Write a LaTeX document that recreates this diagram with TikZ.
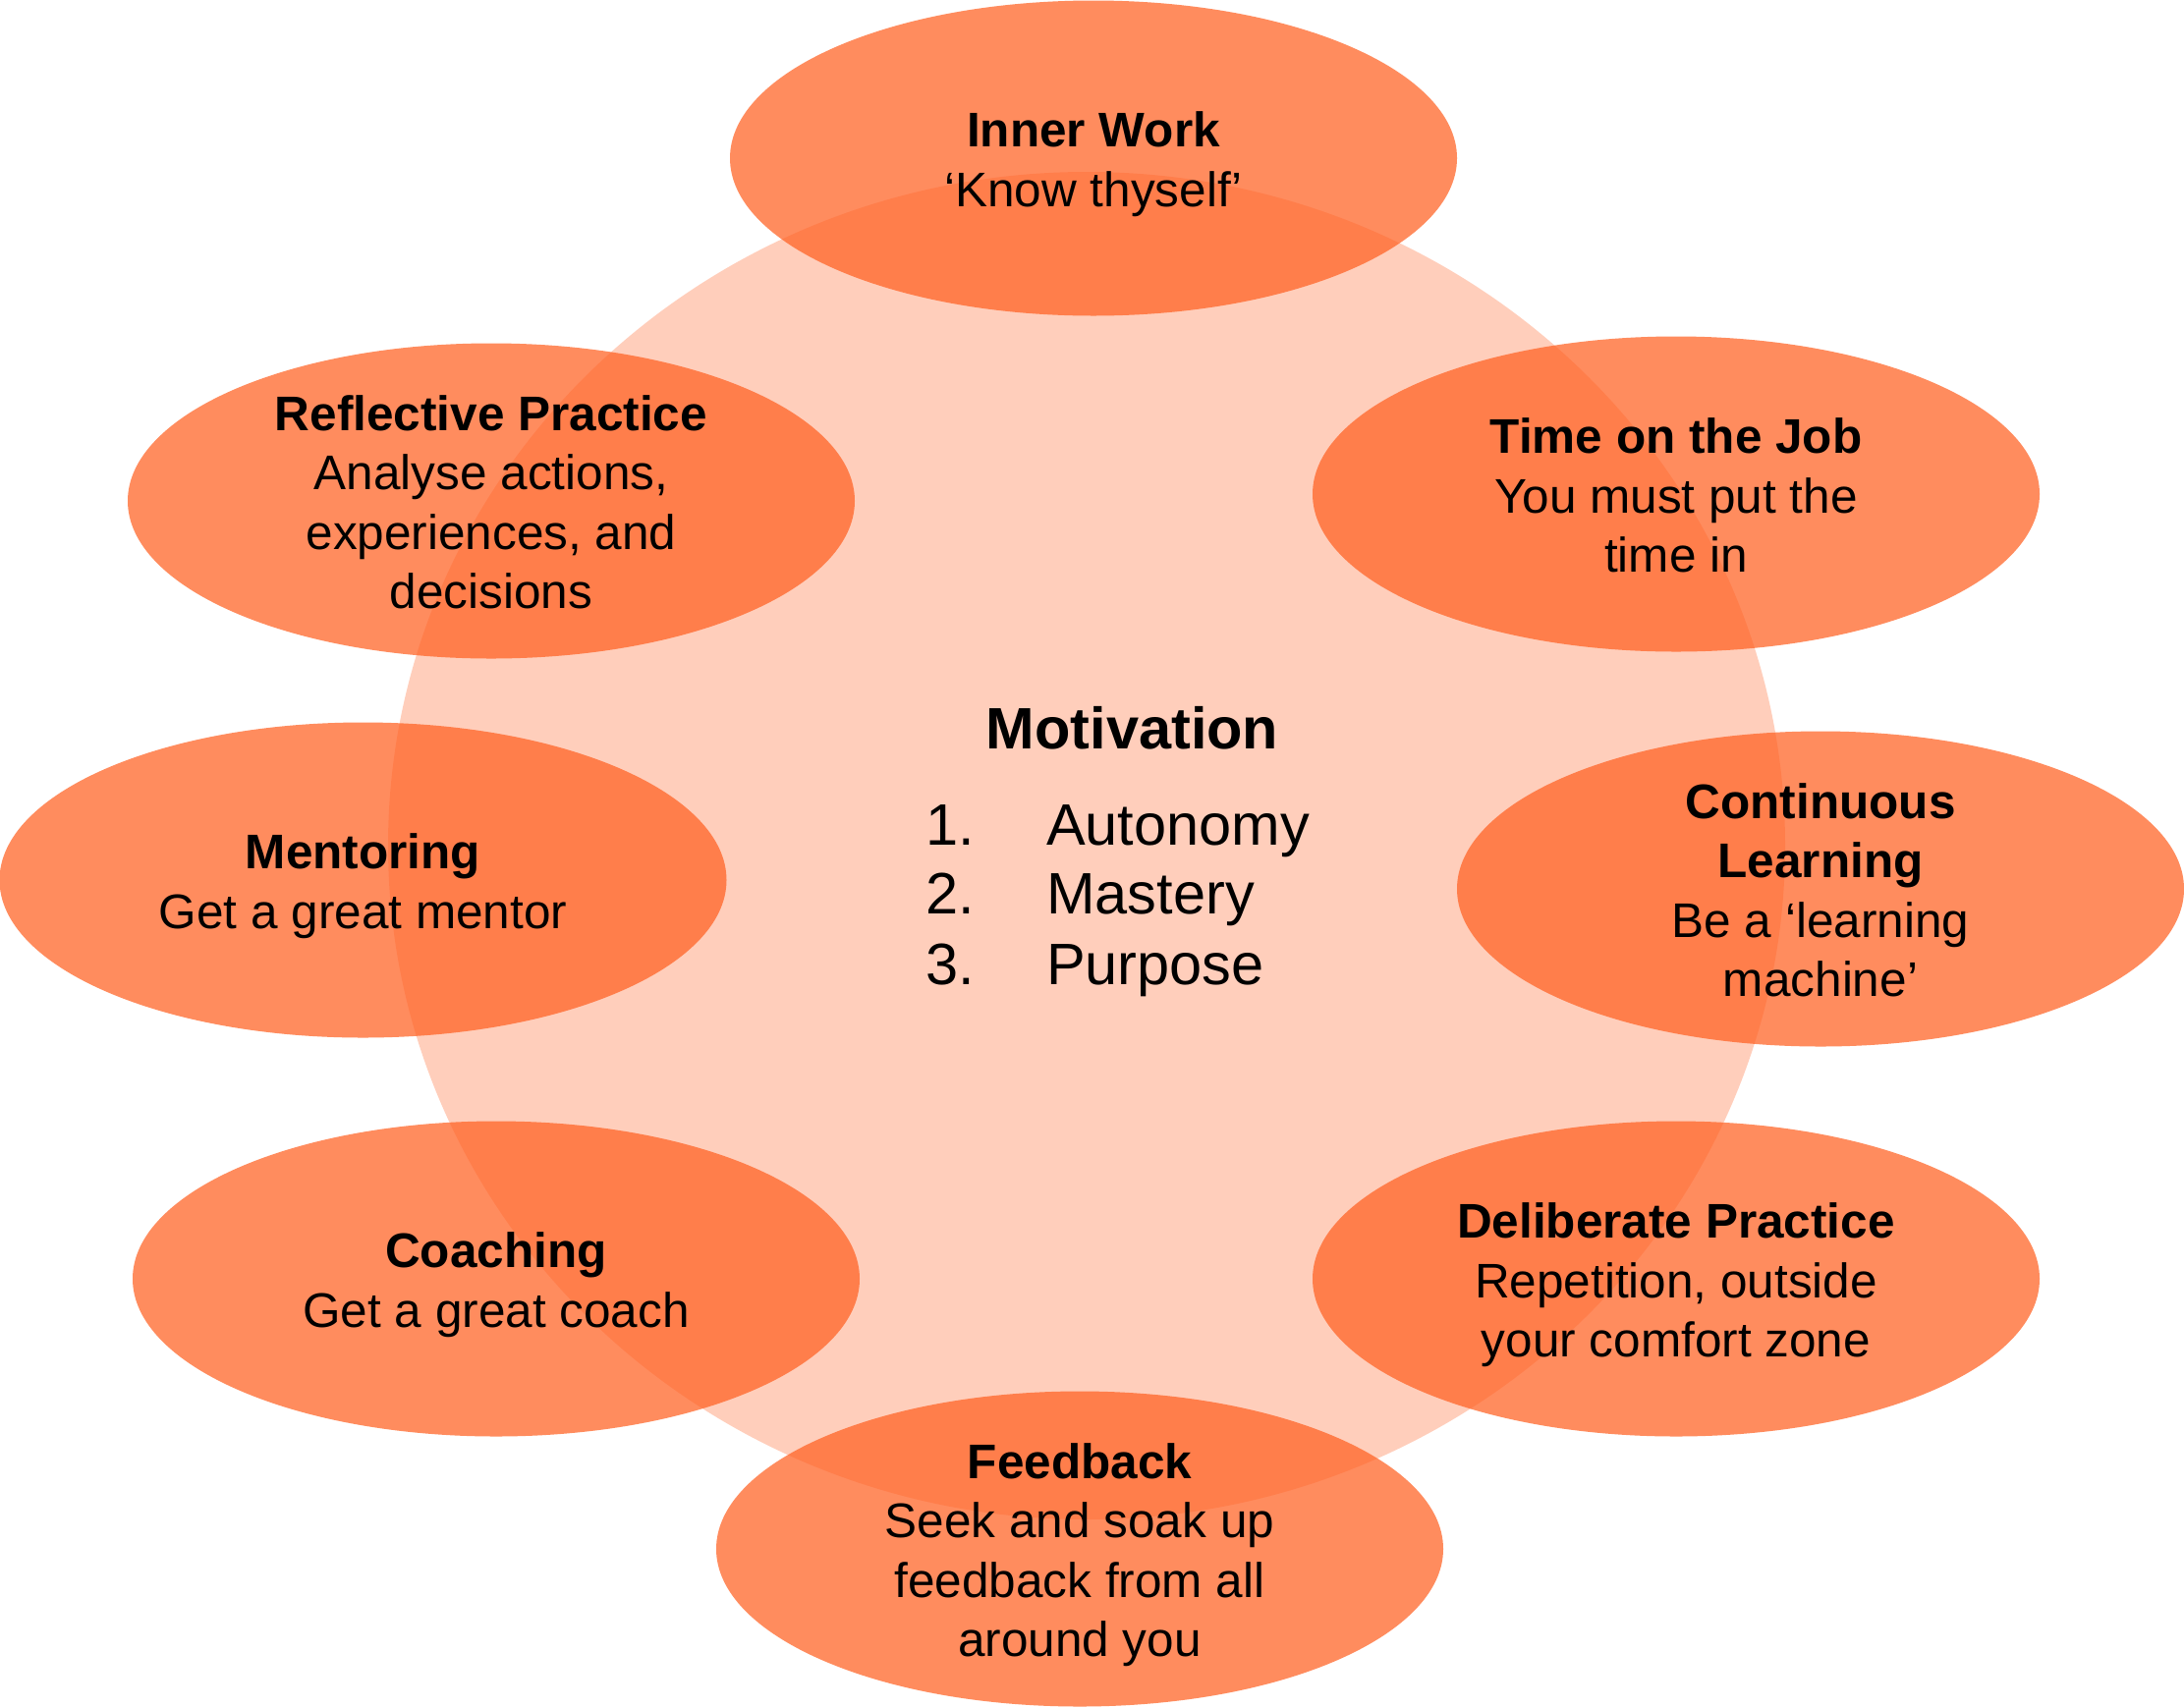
\documentclass[tikz,border=0pt]{standalone}
\usepackage{fontspec}
\setmainfont{Liberation Sans}
\definecolor{orng}{RGB}{255,96,33}
\tikzset{
  blob/.style={fill=orng, fill opacity=0.72},
  core/.style={fill=orng, fill opacity=0.30},
  lbl/.style={align=center, inner sep=0pt, text=black, font=\fontsize{49.5}{60.3}\selectfont},
  mid/.style={inner sep=0pt, anchor=base west, text=black, font=\fontsize{59.5}{71}\selectfont},
}
\newcommand\zs{\rule[-11pt]{0pt}{60pt}}
\begin{document}
\begin{tikzpicture}[x=1pt,y=-1pt]
\useasboundingbox (0,0) rectangle (2223,1738);
\fill[white] (0,0) rectangle (2223,1738);
% central circle
\fill[core] (1106,861) ellipse [x radius=711, y radius=686];
% outer ellipses
\coordinate (cInner) at (1113,161);
\coordinate (cTime) at (1706,503);
\coordinate (cCont) at (1853,905);
\coordinate (cDelib) at (1706,1302);
\coordinate (cFeed) at (1099,1577);
\coordinate (cCoach) at (505,1302);
\coordinate (cMent) at (369.5,896);
\coordinate (cRefl) at (500,510);
\foreach \c in {cInner,cTime,cCont,cDelib,cFeed,cCoach,cMent,cRefl}
  \fill[blob] (\c) ellipse [x radius=370, y radius=160.5];
% labels
\node[lbl] (inner) at (cInner) {\zs\textbf{Inner Work}\\‘Know thyself’\zs};
\node[lbl] (time) at (cTime) {\zs\textbf{Time on the Job}\\You must put the\\time in\zs};
\node[lbl] (cont) at (cCont) {\zs\textbf{Continuous}\\\textbf{Learning}\\Be a ‘learning\\machine’\zs};
\node[lbl] (delib) at (cDelib) {\zs\textbf{Deliberate Practice}\\Repetition, outside\\your comfort zone\zs};
\node[lbl] (feed) at (cFeed) {\zs\textbf{Feedback}\\Seek and soak up\\feedback from all\\around you\zs};
\node[lbl] (coach) at (cCoach) {\zs\textbf{Coaching}\\Get a great coach\zs};
\node[lbl] (ment) at (cMent) {\zs\textbf{Mentoring}\\Get a great mentor\zs};
\node[lbl] (refl) at (cRefl) {\zs\textbf{Reflective Practice}\\Analyse actions,\\experiences, and\\decisions\zs};
% centre text
\node[mid, anchor=base] (motiv) at (1152.5,762) {\textbf{Motivation}};
\node[mid] (n1) at (942,860) {1.};
\node[mid] (n2) at (942,930) {2.};
\node[mid] (n3) at (942,1002) {3.};
\node[mid] (i1) at (1065,860) {Autonomy};
\node[mid] (i2) at (1065,930) {Mastery};
\node[mid] (i3) at (1065,1002) {Purpose};
\end{tikzpicture}
\end{document}
